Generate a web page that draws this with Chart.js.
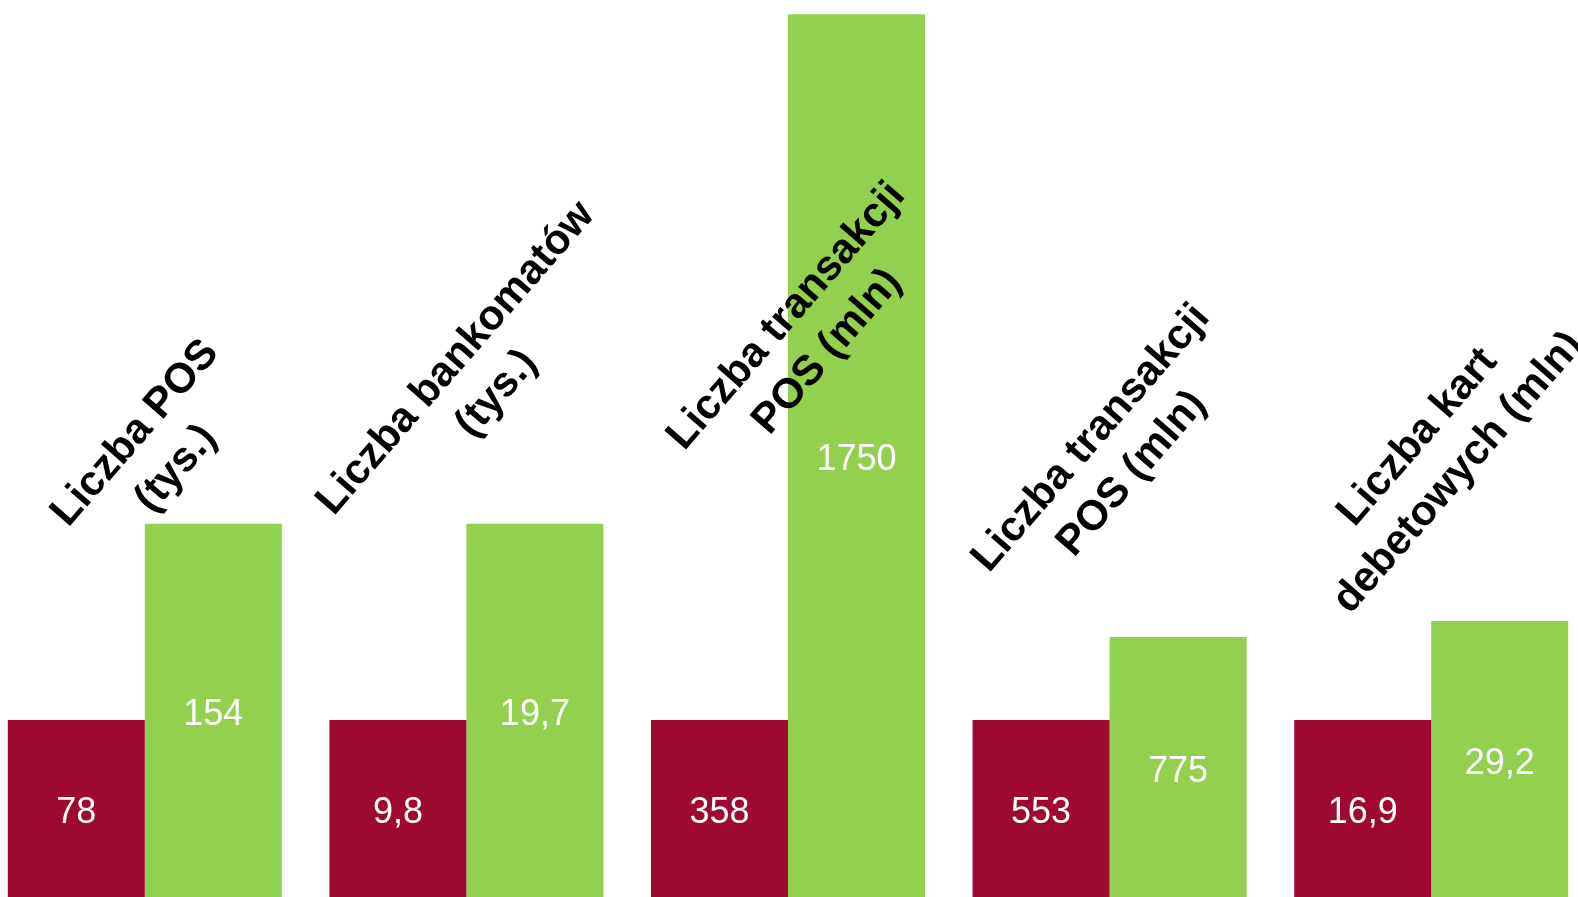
<!DOCTYPE html>
<html>
<head>
<meta charset="utf-8">
<script src="https://cdn.jsdelivr.net/npm/chart.js@4"></script>
<style>
  html, body { margin: 0; padding: 0; background: #fff; overflow: hidden; width: 1578px; height: 897px; }
  #wrap { position: absolute; left: -16px; top: 0; width: 1608px; height: 897px; }
</style>
</head>
<body>
<div id="wrap"><canvas id="chart" width="1608" height="897"></canvas></div>
<script>
// kategorie (podpisy nad slupkami, dwie linie)
const categories = [
  ["Liczba POS", "(tys.)"],
  ["Liczba bankomatów", "(tys.)"],
  ["Liczba transakcji", "POS (mln)"],
  ["Liczba transakcji", "POS (mln)"],
  ["Liczba kart", "debetowych (mln)"]
];

// wartosci wpisane w slupki
const labelsBefore = ["78", "9,8", "358", "553", "16,9"];
const labelsAfter = ["154", "19,7", "1750", "775", "29,2"];

// wysokosc slupkow (czerwony = 100)
const heightBefore = [100, 100, 100, 100, 100];
const heightAfter = [211, 211, 499, 147, 156];

// polozenie podpisow: przesuniecie x od srodka grupy, y w px
const labelPos = [[11, 451], [10, 376], [19, 334], [2, 456], [7, 455]];
const lineGap = 54;
const angle = (49 * Math.PI) / 180;

const fontName = "'Liberation Sans', Arial, sans-serif";

const textPlugin = {
  id: "textPlugin",
  afterDatasetsDraw(chart) {
    const ctx = chart.ctx;
    ctx.save();
    ctx.textAlign = "center";
    ctx.textBaseline = "middle";

    // liczby w slupkach
    ctx.fillStyle = "#fff";
    ctx.font = "36px " + fontName;
    [labelsBefore, labelsAfter].forEach((txt, d) => {
      chart.getDatasetMeta(d).data.forEach((bar, i) => {
        ctx.fillText(txt[i], bar.x, (bar.y + bar.base) / 2 + 5);
      });
    });

    // obrocone podpisy kategorii
    ctx.fillStyle = "#000";
    ctx.font = "bold 42px " + fontName;
    const xs = chart.scales.x;
    categories.forEach((lines, i) => {
      const x = xs.getPixelForValue(i) + labelPos[i][0];
      ctx.save();
      ctx.translate(x, labelPos[i][1]);
      ctx.rotate(-angle);
      lines.forEach((t, k) => {
        ctx.fillText(t, 0, (k - (lines.length - 1) / 2) * lineGap);
      });
      ctx.restore();
    });
    ctx.restore();
  }
};

let ctx = document.getElementById("chart").getContext("2d");

let chart = new Chart(ctx, {
  type: "bar",
  data: {
    labels: categories.map((c) => c.join(" ")),
    datasets: [
      {
        label: "przed",
        backgroundColor: "#9E0932",
        borderWidth: 0,
        data: heightBefore,
      },
      {
        label: "po",
        backgroundColor: "#92D050",
        borderWidth: 0,
        data: heightAfter,
      },
    ],
  },
  options: {
    responsive: false,
    animation: false,
    categoryPercentage: 0.852,
    barPercentage: 1,
    layout: { padding: 0 },
    plugins: {
      legend: { display: false },
      tooltip: { enabled: false },
    },
    scales: {
      x: { display: false, offset: true },
      y: { display: false, min: 0, max: 507 },
    },
  },
  plugins: [textPlugin],
});
</script>
</body>
</html>
